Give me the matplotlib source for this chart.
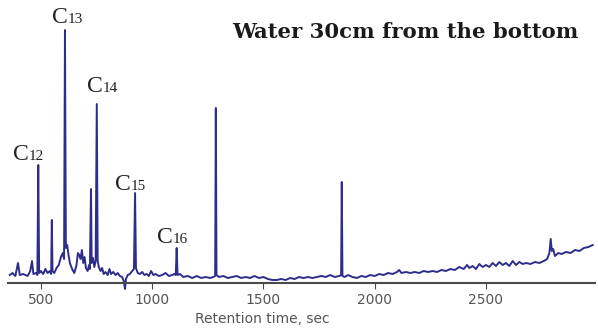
import matplotlib
matplotlib.use("Agg")
import matplotlib.pyplot as plt

# chromatogram trace (retention time in s, signal in arbitrary units)
times = [360, 372, 385, 397, 405, 420, 440, 452, 460, 466, 478, 484, 488, 492,
         500, 510, 520, 530, 540, 546, 549, 552, 560, 570, 580, 590, 598, 604,
         608, 612, 618, 624, 630, 640, 650, 660, 666, 672, 678, 684, 690, 696,
         702, 710, 716, 720, 725, 728, 734, 740, 746, 751, 755, 760, 768, 775,
         782, 790, 800, 808, 815, 825, 835, 845, 855, 865, 872, 878, 882, 890,
         900, 910, 918, 923, 927, 935, 945, 955, 965, 975, 985, 995, 1005, 1015,
         1030, 1045, 1060, 1075, 1090, 1100, 1106, 1110, 1114, 1125, 1140, 1160,
         1180, 1200, 1220, 1240, 1260, 1275, 1283, 1286, 1289, 1300, 1320, 1340,
         1360, 1380, 1400, 1420, 1440, 1460, 1480, 1500, 1520, 1540, 1560, 1580,
         1600, 1620, 1640, 1660, 1680, 1700, 1720, 1740, 1760, 1780, 1800, 1820,
         1840, 1849, 1852, 1855, 1865, 1880, 1900, 1920, 1940, 1960, 1980, 2000,
         2020, 2040, 2060, 2080, 2100, 2110, 2120, 2140, 2160, 2180, 2200, 2220,
         2240, 2260, 2280, 2300, 2320, 2340, 2360, 2380, 2400, 2415, 2425, 2440,
         2455, 2470, 2485, 2500, 2515, 2530, 2545, 2560, 2575, 2590, 2605, 2620,
         2635, 2650, 2665, 2680, 2700, 2720, 2740, 2760, 2775, 2785, 2791, 2796,
         2802, 2810, 2825, 2840, 2860, 2880, 2900, 2920, 2940, 2960, 2980]
signal = [8, 10, 7, 20, 8, 9, 7, 12, 22, 9, 10, 8, 118, 10,
          12, 9, 14, 10, 12, 9, 63, 12, 10, 15, 18, 26, 30, 24,
          253, 35, 38, 28, 20, 14, 10, 18, 30, 28, 24, 33, 20, 26,
          15, 12, 18, 14, 94, 20, 25, 16, 22, 179, 22, 16, 12, 15,
          9, 11, 8, 14, 9, 11, 8, 10, 7, 6, 2, -6, 4, 8,
          9, 12, 14, 90, 15, 10, 9, 11, 8, 9, 7, 12, 8, 9,
          7, 8, 10, 7, 8, 9, 8, 35, 8, 9, 6, 7,
          5, 7, 5, 6, 5, 6, 7, 175, 8, 6, 7, 5,
          6, 7, 5, 6, 5, 7, 5, 6, 4, 3, 3, 4,
          3, 5, 4, 6, 5, 6, 5, 6, 7, 6, 8, 6,
          7, 8, 101, 7, 6, 8, 6, 5, 7, 6, 8, 7,
          9, 8, 10, 9, 11, 13, 10, 11, 10, 11, 10, 12,
          11, 12, 11, 13, 12, 14, 13, 16, 14, 18, 15, 17,
          14, 19, 16, 18, 16, 20, 17, 21, 18, 20, 17, 22,
          18, 21, 19, 20, 19, 21, 20, 22, 24, 30, 44, 32,
          34, 27, 30, 29, 31, 30, 33, 32, 35, 36, 38]

# peak labels: carbon number, label position (time, signal)
peak_numbers = ["12", "13", "14", "15", "16"]
label_times = [375, 550, 707, 833, 1022]
label_levels = [123, 260, 191, 93, 40]

xticks = [500, 1000, 1500, 2000, 2500]

fig = plt.figure(figsize=(5.98, 3.28), dpi=100)
ax = fig.add_axes([8 / 598, 45 / 328, 587 / 598, 283 / 328])

ax.plot(times, signal, color="#2e2d8c", linewidth=1.4, clip_on=False)

ax.set_xlim(352, 2990)
ax.set_ylim(0, 283)
ax.set_xticks(xticks)
ax.set_yticks([])
for side in ["top", "right", "left"]:
    ax.spines[side].set_visible(False)
ax.spines["bottom"].set_color("#4a4a4a")
ax.spines["bottom"].set_linewidth(1.5)
ax.tick_params(axis="x", direction="out", length=4, color="#4a4a4a",
               labelsize=10, labelcolor="#555555")

serif = ["Liberation Serif", "DejaVu Serif"]
for num, t, lvl in zip(peak_numbers, label_times, label_levels):
    ax.annotate("C", (t, lvl), ha="left", va="baseline", fontsize=17,
                family=serif, color="#222222")
    ax.annotate(num, (t, lvl), xytext=(11.5, 0), textcoords="offset points",
                ha="left", va="baseline", fontsize=11, family=serif,
                color="#222222")

fig.text(578 / 598, (328 - 38) / 328, "Water 30cm from the bottom",
         ha="right", va="baseline", fontsize=15.3, fontweight="bold",
         family="DejaVu Serif", color="#1a1a1a")

fig.text(262 / 598, 2 / 328, "Retention time, sec", ha="center",
         va="bottom", fontsize=10, color="#555555")

fig.savefig("out.png", dpi=100)
